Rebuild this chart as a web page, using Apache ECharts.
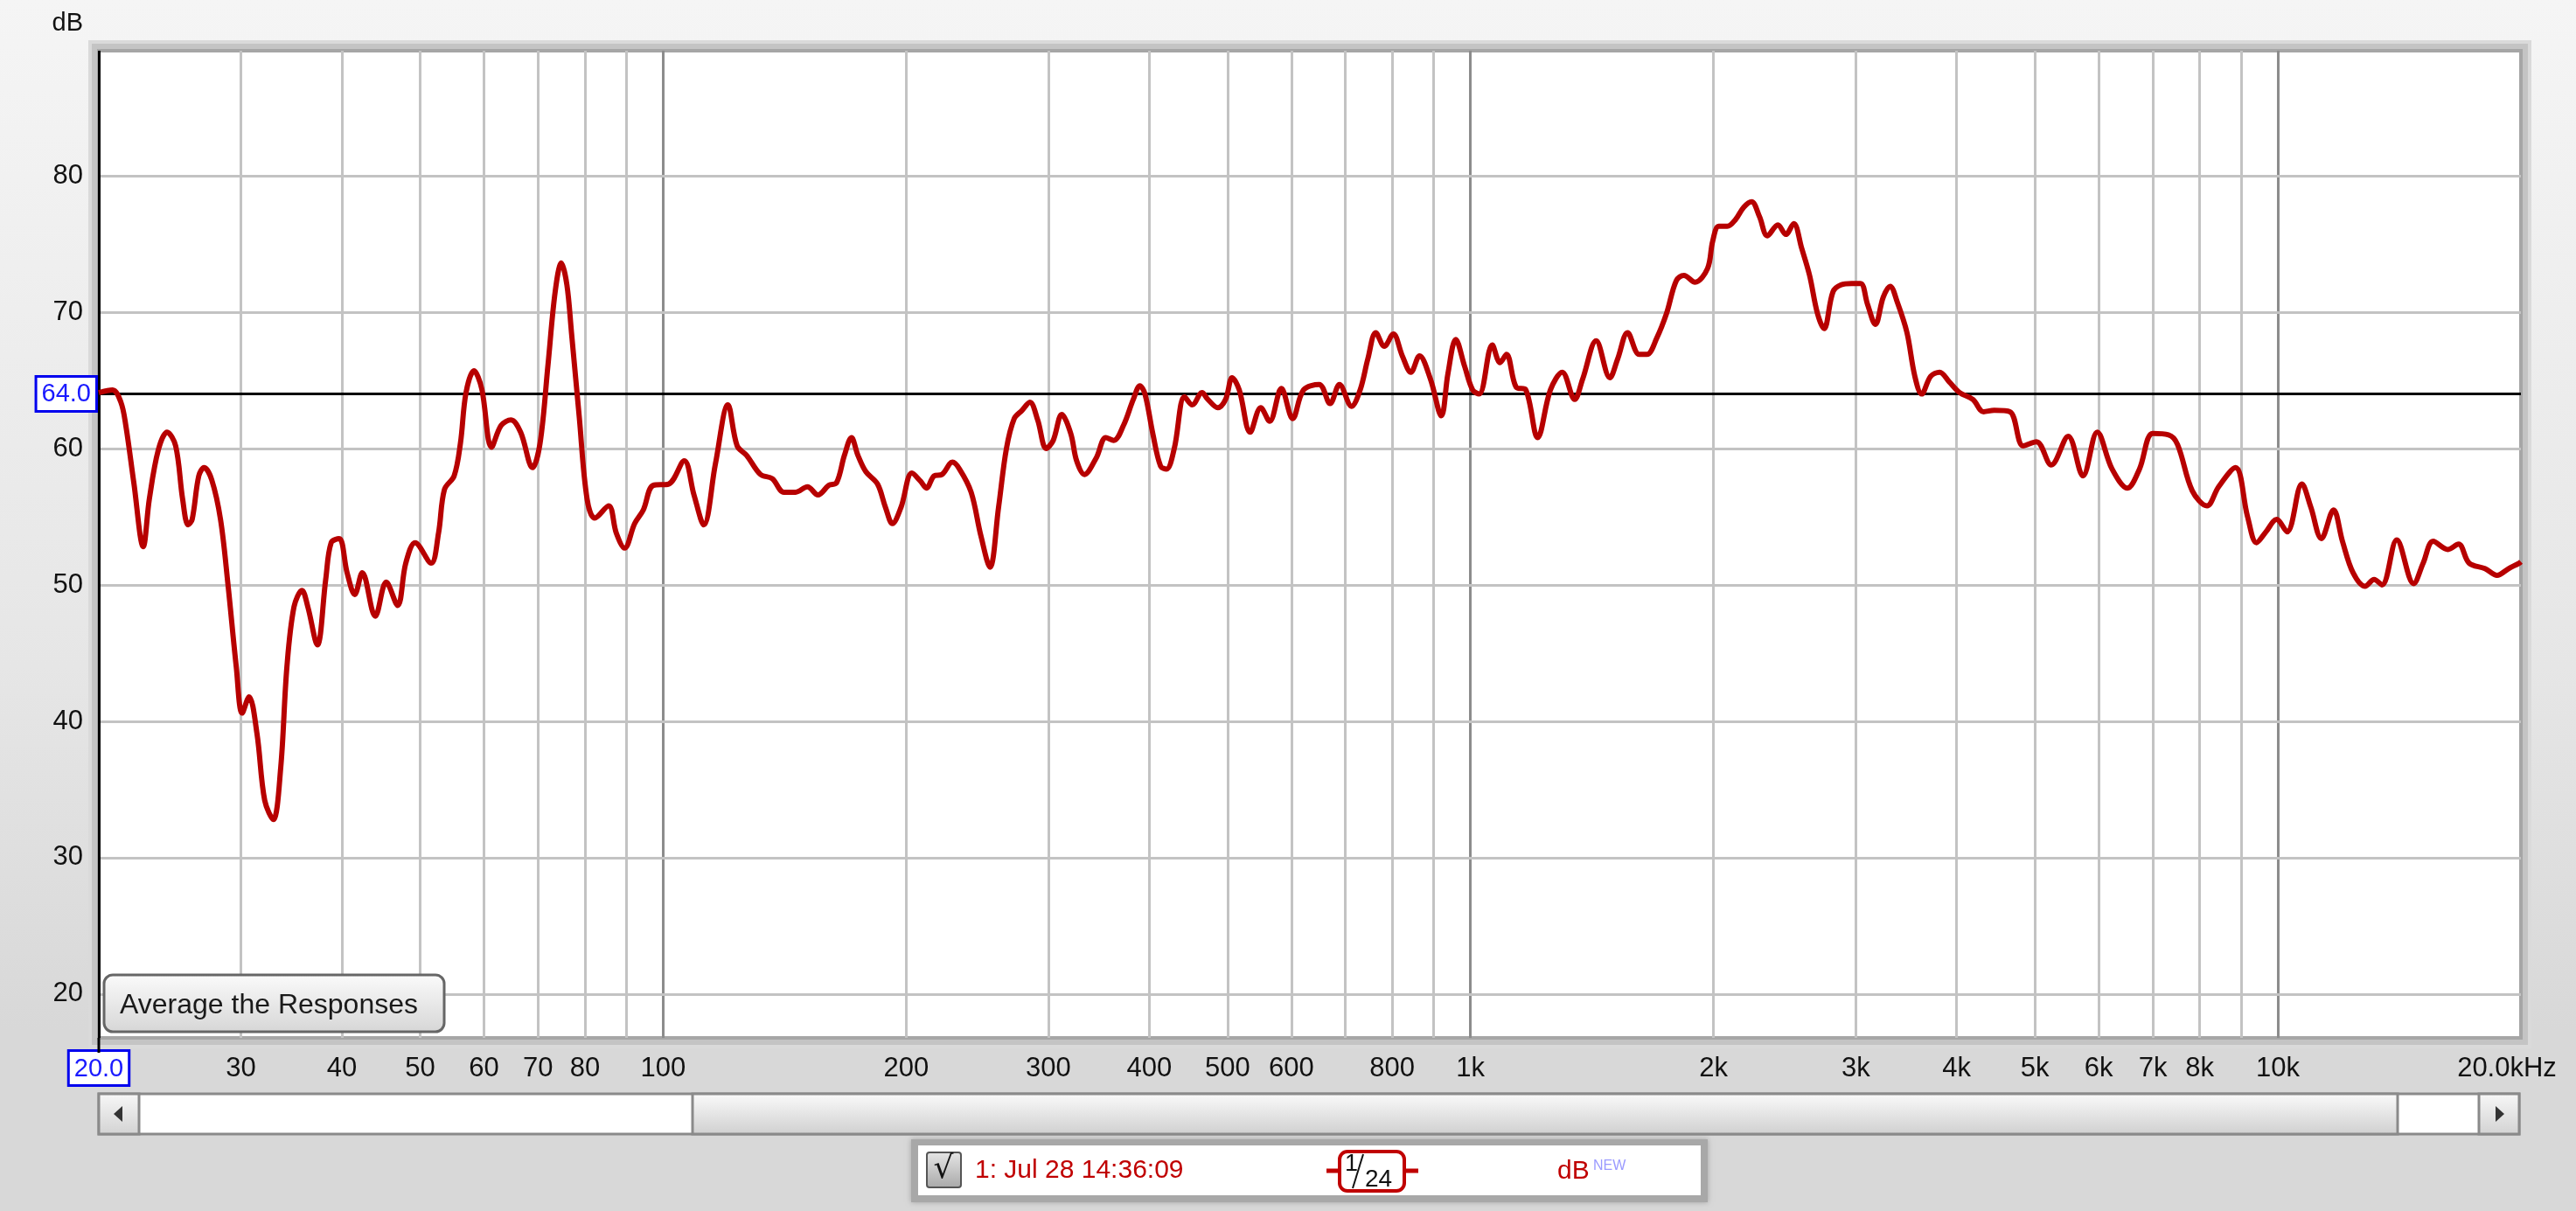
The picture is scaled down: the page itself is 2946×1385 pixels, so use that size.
<!DOCTYPE html>
<html>
<head>
<meta charset="utf-8">
<script src="https://cdn.jsdelivr.net/npm/echarts@6/dist/echarts.min.js"></script>
<style>
html,body{margin:0;padding:0;}
body{width:2946px;height:1385px;background:linear-gradient(to bottom,#f5f5f5 0%,#e6e6e6 55%,#d8d8d8 85%,#d8d8d8 100%);overflow:hidden;}
#main{width:2946px;height:1385px;}
</style>
</head>
<body>
<div id="main"></div>
<script>
// ---- data (frequency in Hz, level in dB) ----
const freq = [20.0,20.8,21.3,21.6,22.1,22.7,23.1,23.7,24.3,24.9,25.4,25.8,26.1,26.6,27.0,27.6,28.3,28.9,29.6,30.1,
30.7,31.4,32.1,32.9,33.6,34.2,34.9,35.7,36.3,37.3,38.2,38.8,39.7,40.6,41.5,42.4,44.0,45.4,46.9,48.0,
49.3,51.6,52.7,53.6,55.1,56.1,57.0,58.3,59.6,61.3,63.0,64.8,66.6,68.9,70.4,72.0,73.5,74.8,76.0,77.0,
78.7,80.5,82.3,85.6,87.5,89.6,92.2,94.5,97.2,101.6,106.2,109.2,112.3,116.1,120.3,123.5,126.9,132.0,136.5,141.1,
145.9,150.9,155.5,160.4,164.0,167.7,171.1,174.3,178.3,184.3,188.5,192.3,197.1,203.3,208.4,211.9,216.6,221.5,228.2,232.8,
240.7,247.5,254.0,260.3,266.2,272.2,278.3,284.6,291.0,298.2,304.2,311.7,319.8,325.2,332.5,343.8,353.5,361.5,371.7,382.2,
389.5,395.2,404.1,413.2,420.2,429.6,442.4,452.3,465.0,472.9,486.3,497.3,506.8,517.1,533.5,549.8,563.9,583.1,602.2,621.2,
649.4,670.0,688.2,712.3,730.0,746.4,763.3,782.2,802.4,823.2,843.7,864.6,892.0,920.2,937.7,958.9,983.7,1006,1025,1064,
1088,1108,1139,1171,1211,1256,1299,1346,1377,1431,1488,1522,1565,1618,1654,1701,1749,1798,1838,1897,
1966,1995,2030,2080,2130,2180,2229,2280,2332,2403,2458,2514,2571,2630,2690,2741,2812,2877,2965,3042,
3102,3173,3245,3309,3379,3472,3551,3621,3715,3811,3916,4036,4191,4320,4453,4658,4837,5023,5240,5499,
5736,5974,6232,6510,6739,6999,7321,7511,7834,8170,8445,8861,9172,9410,9668,9962,10266,10708,10985,11322,
11720,12023,12390,12826,13158,13458,14037,14730,15135,15573,16244,16741,17252,18049,18685,19312,19900,20000];
const spl = [64.1,64.3,63.4,61.7,57.5,52.8,56.3,59.9,61.2,60.2,56.3,54.4,54.8,58.0,58.6,57.7,54.8,50.1,44.0,40.6,
41.8,39.1,34.2,32.8,36.6,44.0,48.4,49.6,48.4,45.6,50.4,53.1,53.4,50.9,49.3,50.9,47.7,50.2,48.5,51.6,
53.1,51.6,53.8,57.0,58.0,60.4,64.1,65.7,64.4,60.1,61.7,62.1,61.2,58.6,60.4,66.1,71.5,73.6,72.0,68.5,
62.4,56.3,54.9,55.8,53.8,52.7,54.5,55.5,57.3,57.4,59.1,56.6,54.4,58.9,63.2,60.2,59.5,58.1,57.8,56.8,
56.8,57.2,56.6,57.3,57.5,59.5,60.8,59.5,58.3,57.4,55.7,54.5,55.7,58.2,57.6,57.1,58.0,58.1,59.0,58.5,
56.8,53.6,51.3,55.7,60.0,62.2,62.8,63.4,62.1,60.0,60.6,62.5,61.1,59.1,58.1,59.3,60.8,60.6,61.7,63.6,
64.6,64.0,61.1,58.7,58.5,60.0,63.8,63.2,64.1,63.6,63.0,63.6,65.2,64.3,61.2,63.0,62.0,64.4,62.2,64.3,
64.7,63.3,64.7,63.1,64.3,66.6,68.5,67.5,68.4,66.8,65.6,66.8,65.1,62.4,65.5,68.0,66.0,64.3,64.0,67.6,
66.3,66.9,64.5,64.3,60.8,64.3,65.6,63.6,65.1,67.9,65.2,66.6,68.5,66.9,66.9,68.1,69.9,72.3,72.7,72.2,
73.2,75.2,76.3,76.3,76.8,77.7,78.1,77.0,75.6,76.4,75.7,76.5,74.7,72.7,69.9,68.8,71.5,72.0,72.1,72.1,
70.6,69.1,71.1,71.9,70.7,68.5,65.3,64.0,65.3,65.6,64.9,64.1,63.6,62.7,62.8,62.7,60.2,60.5,58.8,60.9,
58.0,61.2,58.5,57.1,58.5,61.1,61.0,60.3,56.9,55.8,57.2,58.6,55.0,53.1,53.9,54.8,53.9,57.4,55.7,53.4,
55.5,53.2,50.9,49.9,50.4,50.0,53.3,50.1,51.6,53.2,52.6,53.0,51.6,51.2,50.7,51.2,51.6,51.7];

// ---- axes / ticks ----
const xMin = 20, xMax = 20000;
const yMin = 16.79, yMax = 89.17;
const xGridMinor = [30,40,50,60,70,80,90,200,300,400,500,600,700,800,900,2000,3000,4000,5000,6000,7000,8000,9000];
const xGridMajor = [100,1000,10000];
const xTickValues = [30,40,50,60,70,80,100,200,300,400,500,600,800,1000,2000,3000,4000,5000,6000,7000,8000,10000];
const xTickLabels = ['30','40','50','60','70','80','100','200','300','400','500','600','800','1k','2k','3k','4k','5k','6k','7k','8k','10k'];
const yTicks = [20,30,40,50,60,70,80];
const yTickLabels = ['20','30','40','50','60','70','80'];
const refLevel = 64.0;
const refLabel = '64.0';
const startLabel = '20.0';
const endLabel = '20.0kHz';
const seriesName = '1: Jul 28 14:36:09';

const FONT = 'Liberation Sans';
const chart = echarts.init(document.getElementById('main'), null, {renderer: 'canvas'});

const curve = freq.map((f, i) => [f, spl[i]]);
const minorStyle = {color: '#c3c3c3', width: 3, type: 'solid'};
const majorStyle = {color: '#8c8c8c', width: 3, type: 'solid'};
const tickLabel = {show: true, position: 'start', distance: 20, fontSize: 31, color: '#111', fontFamily: FONT};

const xLineData = xGridMinor.map(v => ({v, major: false})).concat(xGridMajor.map(v => ({v, major: true})))
  .map(o => {
    const i = xTickValues.indexOf(o.v);
    return {
      xAxis: o.v,
      lineStyle: o.major ? majorStyle : minorStyle,
      label: i >= 0 ? Object.assign({}, tickLabel, {formatter: xTickLabels[i]}) : {show: false}
    };
  });
xLineData.push({
  xAxis: xMax,
  lineStyle: {color: 'rgba(0,0,0,0)', width: 1, type: 'solid'},
  label: Object.assign({}, tickLabel, {formatter: endLabel, padding: [0, 32, 0, 0]})
});
const yLineData = yTicks.map((v, i) => ({
  yAxis: v,
  lineStyle: minorStyle,
  label: Object.assign({}, tickLabel, {formatter: yTickLabels[i], distance: 18})
}));

const boxLabel = {
  show: true, position: 'start', fontSize: 29, color: '#1a1aff', fontFamily: FONT,
  backgroundColor: '#ffffff', borderColor: '#0000ee', borderWidth: 3, padding: [5, 5, 3, 5]
};

const option = {
  backgroundColor: 'transparent',
  animation: false,
  grid: {
    left: 113, top: 58, width: 2770, height: 1129,
    show: true, backgroundColor: '#ffffff', borderColor: '#a6a6a6', borderWidth: 4, z: 0
  },
  xAxis: {
    type: 'log', logBase: 10, min: xMin, max: xMax,
    axisLine: {show: false}, axisTick: {show: false}, axisLabel: {show: false},
    splitLine: {show: false}, minorSplitLine: {show: false}
  },
  yAxis: {
    type: 'value', min: yMin, max: yMax,
    name: 'dB', nameLocation: 'end', nameGap: 17,
    nameTextStyle: {fontSize: 29, color: '#111', fontFamily: FONT, align: 'right', padding: [0, 18, 0, 0]},
    axisLine: {show: false}, axisTick: {show: false}, axisLabel: {show: false}, splitLine: {show: false}
  },
  series: [
    {
      type: 'line', data: [], z: 2, silent: true,
      markLine: {
        silent: true, animation: false, symbol: ['none', 'none'],
        emphasis: {disabled: true},
        data: xLineData.concat(yLineData)
      }
    },
    {
      type: 'line', data: [], z: 3, silent: true,
      markLine: {
        silent: true, animation: false, symbol: ['none', 'none'],
        emphasis: {disabled: true},
        data: [
          {yAxis: refLevel, lineStyle: {color: '#000', width: 3, type: 'solid'},
           label: Object.assign({}, boxLabel, {formatter: refLabel, distance: 4})},
          {xAxis: xMin, lineStyle: {color: '#000', width: 3, type: 'solid'},
           label: Object.assign({}, boxLabel, {formatter: startLabel, distance: 16})}
        ]
      }
    },
    {
      name: seriesName, type: 'line', data: curve, z: 5,
      showSymbol: false, symbol: 'none', smooth: 0.35,
      lineStyle: {color: '#b70000', width: 6},
      silent: true
    }
  ],
  graphic: [
    // plot frame shadow
    {type: 'rect', z: -5, shape: {x: 101, y: 46, width: 2794, height: 1153}, style: {fill: '#dadada'}},
    {type: 'rect', z: -4, shape: {x: 105, y: 50, width: 2786, height: 1145}, style: {fill: '#c4c4c4'}},
    // left axis extension down to the start box
    {type: 'line', z: 20, shape: {x1: 113, y1: 1187, x2: 113, y2: 1204}, style: {stroke: '#000', lineWidth: 3}},
    // "Average the Responses" button
    {type: 'rect', z: 20, shape: {x: 119, y: 1115, width: 389, height: 65, r: 10},
     style: {fill: {type: 'linear', x: 0, y: 0, x2: 0, y2: 1, colorStops: [{offset: 0, color: '#fbfbfb'}, {offset: 1, color: '#d6d6d6'}]},
             stroke: '#666', lineWidth: 3}},
    {type: 'text', z: 21, x: 137, y: 1150, style: {text: 'Average the Responses', fontSize: 32, fontFamily: FONT, fill: '#1a1a1a', verticalAlign: 'middle'}},
    // scrollbar
    {type: 'rect', z: 20, shape: {x: 113, y: 1251, width: 2768, height: 46}, style: {fill: '#ffffff', stroke: '#8a8a8a', lineWidth: 3}},
    {type: 'rect', z: 21, shape: {x: 792, y: 1251, width: 1950, height: 46},
     style: {fill: {type: 'linear', x: 0, y: 0, x2: 0, y2: 1, colorStops: [{offset: 0, color: '#fbfbfb'}, {offset: 1, color: '#cfcfcf'}]},
             stroke: '#8a8a8a', lineWidth: 3}},
    {type: 'rect', z: 21, shape: {x: 113, y: 1251, width: 46, height: 46},
     style: {fill: {type: 'linear', x: 0, y: 0, x2: 0, y2: 1, colorStops: [{offset: 0, color: '#f8f8f8'}, {offset: 1, color: '#d2d2d2'}]},
             stroke: '#8a8a8a', lineWidth: 3}},
    {type: 'rect', z: 21, shape: {x: 2835, y: 1251, width: 46, height: 46},
     style: {fill: {type: 'linear', x: 0, y: 0, x2: 0, y2: 1, colorStops: [{offset: 0, color: '#f8f8f8'}, {offset: 1, color: '#d2d2d2'}]},
             stroke: '#8a8a8a', lineWidth: 3}},
    {type: 'polygon', z: 22, shape: {points: [[130, 1274], [140, 1265], [140, 1283]]}, style: {fill: '#333'}},
    {type: 'polygon', z: 22, shape: {points: [[2864, 1274], [2854, 1265], [2854, 1283]]}, style: {fill: '#333'}},
    // legend box
    {type: 'rect', z: 20, shape: {x: 1042, y: 1303, width: 911, height: 72}, style: {fill: '#a8a8a8', shadowBlur: 6, shadowColor: 'rgba(0,0,0,0.25)'}},
    {type: 'rect', z: 21, shape: {x: 1050, y: 1310, width: 895, height: 57}, style: {fill: '#ffffff'}},
    {type: 'rect', z: 22, shape: {x: 1060, y: 1318, width: 39, height: 40, r: 3},
     style: {fill: {type: 'linear', x: 0, y: 0, x2: 0, y2: 1, colorStops: [{offset: 0, color: '#e6e6e6'}, {offset: 1, color: '#a8a8a8'}]},
             stroke: '#555', lineWidth: 2}},
    {type: 'text', z: 23, x: 1079, y: 1338, style: {text: '√', fontSize: 36, fontFamily: 'DejaVu Sans', fill: '#111', align: 'center', verticalAlign: 'middle'}},
    {type: 'text', z: 22, x: 1115, y: 1339, style: {text: seriesName, fontSize: 30, fontFamily: FONT, fill: '#c00000', verticalAlign: 'middle'}},
    {type: 'line', z: 22, shape: {x1: 1517, y1: 1339, x2: 1622, y2: 1339}, style: {stroke: '#c00000', lineWidth: 5}},
    {type: 'rect', z: 23, shape: {x: 1532, y: 1317, width: 74, height: 45, r: 9}, style: {fill: '#ffffff', stroke: '#c00000', lineWidth: 4}},
    {type: 'text', z: 24, x: 1538, y: 1318, style: {text: '1', fontSize: 27, fontFamily: FONT, fill: '#111'}},
    {type: 'line', z: 24, shape: {x1: 1547, y1: 1359, x2: 1559, y2: 1320}, style: {stroke: '#111', lineWidth: 2}},
    {type: 'text', z: 24, x: 1561, y: 1335, style: {text: '24', fontSize: 28, fontFamily: FONT, fill: '#111'}},
    {type: 'text', z: 22, x: 1781, y: 1340, style: {text: 'dB', fontSize: 30, fontFamily: FONT, fill: '#c00000', verticalAlign: 'middle'}},
    {type: 'text', z: 22, x: 1822, y: 1326, style: {text: 'NEW', fontSize: 16, fontFamily: FONT, fill: '#9a9aff'}}
  ]
};
chart.setOption(option);
</script>
</body>
</html>
